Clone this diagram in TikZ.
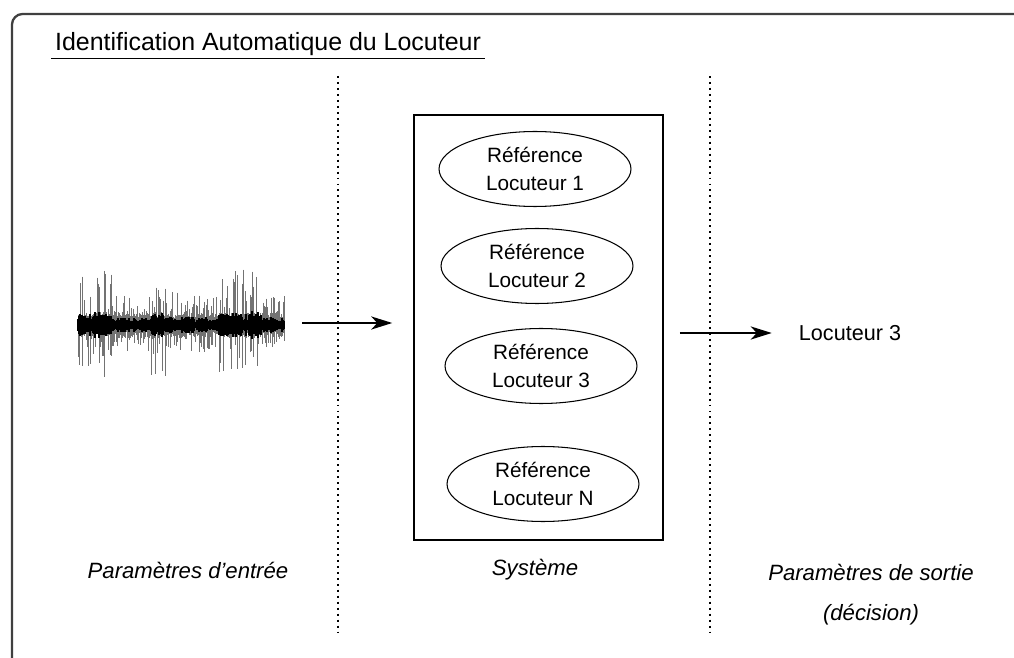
\documentclass[tikz,border=0pt]{standalone}
\usepackage{fontspec}
\setmainfont{Liberation Sans}
\usetikzlibrary{arrows.meta,shapes.geometric}

\begin{document}
\begin{tikzpicture}[x=0.02cm, y=-0.02cm,
		reference/.style={shape=ellipse, draw, line width=0.6pt, align=center, inner sep=1pt,
			minimum width=3.84cm, minimum height=1.5cm, font=\fontsize{11.8}{16}\selectfont},
		legende/.style={align=center, font=\fontsize{12.6}{22.5}\selectfont\itshape},
		pointille/.style={line width=0.9pt, dash pattern=on 1.1pt off 2.3pt},
		fleche/.style={-{Stealth[length=12pt, width=7.5pt, inset=3.5pt]}, line width=0.8pt}]
	\useasboundingbox (0,0) rectangle (1014,658);
	
	% cadre ouvert en bas et a droite
	\begin{scope}
		\clip (0,0) rectangle (1014,658);
		\draw[black!75, line width=1.3pt, rounded corners=6pt] (12,700) -- (12,14) -- (1060,14);
	\end{scope}
	
	\node (titre)[inner xsep=2pt, inner ysep=1.5pt, font=\fontsize{14.2}{17}\selectfont] 
	at (268,44){Identification Automatique du Locuteur};
	\draw[line width=0.9pt] (titre.south west) -- (titre.south east);
	
	% separations entre les trois parties
	\draw[pointille] (338,76) -- (338,636);
	\draw[pointille] (710,76) -- (710,636);
	
	% signal de parole
	\pgfmathsetseed{31}
	\foreach \i in {78,...,284}{
		\pgfmathsetmacro\fort{(\i<112)+(\i>150)*(\i<166)+(\i>218)*(\i<262)}
		\pgfmathsetmacro\haut{7+6*rnd+(rnd>0.45)*(20+25*\fort)*rnd}
		\pgfmathsetmacro\bas{7+6*rnd+(rnd>0.45)*(16+25*\fort)*rnd}
		\draw[black!55, line width=0.5pt] (\i,325-\haut) -- (\i,325+\bas);
		\pgfmathsetmacro\coeur{3+5*rnd+\fort*6*rnd}
		\draw[black, line width=0.7pt] (\i,325-\coeur) -- (\i,325+\coeur);
	}
	\coordinate (onde) at (284,323);
	
	% systeme avec les references
	\node (sys)[draw, line width=0.9pt, minimum width=4.98cm, minimum height=8.5cm] at (538.5,327.5) {};
	\node (loc1)[reference] at (535,169) {Référence \\ Locuteur 1};
	\node (loc2)[reference] at (537,266) {Référence \\ Locuteur 2};
	\node (loc3)[reference] at (541,366) {Référence \\ Locuteur 3};
	\node (locN)[reference] at (543,484) {Référence \\ Locuteur N};
	
	\node (sortie)[font=\fontsize{12.3}{15}\selectfont] at (850,333) {Locuteur 3};
	
	\draw[fleche, shorten <=0.36cm, shorten >=0.42cm] (onde) -- (onde -| sys.west);
	\draw[fleche, shorten <=0.32cm, shorten >=0.42cm] (sys.east |- sortie.west) -- (sortie.west);
	
	\node (p1)[legende] at (188,570) {Paramètres d’entrée};
	\node (p2)[legende] at (535,570) {Système};
	\node (p3)[legende, anchor=north] at (871,558) {Paramètres de sortie \\ (décision)};
\end{tikzpicture}
\end{document}
